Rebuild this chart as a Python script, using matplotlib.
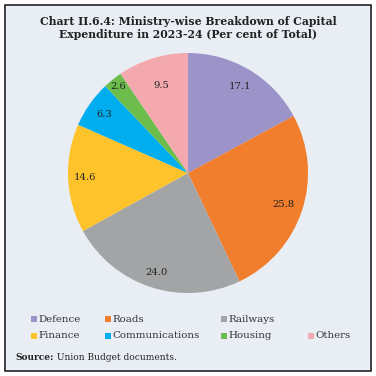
import matplotlib
matplotlib.use("Agg")
import matplotlib.pyplot as plt
from matplotlib.patches import Rectangle

categories = ["Defence", "Roads", "Railways", "Finance", "Communications", "Housing", "Others"]
values = [17.1, 25.8, 24.0, 14.6, 6.3, 2.6, 9.5]
colors = ["#9C94C9", "#F07E2C", "#A2A4A6", "#FEC32A", "#00AEEF", "#6CBD4B", "#F4A9AE"]
label_dist = [0.84, 0.84, 0.87, 0.86, 0.85, 0.93, 0.76]
title = "Chart II.6.4: Ministry-wise Breakdown of Capital\nExpenditure in 2023-24 (Per cent of Total)"
source_label = "Source:"
source_text = " Union Budget documents."

W = H = 376
fig = plt.figure(figsize=(3.76, 3.76), dpi=100)
fig.patch.set_facecolor("white")
bg = "#E9EEF5"
fig.patches.append(Rectangle((5 / W, 5 / H), 366 / W, 366 / H, transform=fig.transFigure,
                             facecolor=bg, edgecolor="#222222", linewidth=1.2, zorder=-5))

serif = ["DejaVu Serif"]
fig.text(188 / W, 1 - 28 / H, title, ha="center", va="center", fontsize=7.8,
         fontweight="bold", family=serif, linespacing=1.25, color="#222222")

# pie axes: center (188,173), radius ~120
r = 120
ax = fig.add_axes([(188 - r) / W, 1 - (173 + r) / H, 2 * r / W, 2 * r / H], zorder=2)
ax.set_facecolor("none")
wedges, texts = ax.pie(values, colors=colors, startangle=90, counterclock=False,
                       labels=[f"{v:.1f}" for v in values], labeldistance=1.0,
                       wedgeprops=dict(linewidth=0),
                       textprops=dict(fontsize=7.2, family=serif, color="#222222"))
for t, d in zip(texts, label_dist):
    x, y = t.get_position()
    t.set_position((x * d, y * d))
    t.set_ha("center")
    t.set_va("center")
ax.set_xlim(-1, 1)
ax.set_ylim(-1, 1)
ax.set_aspect("equal")
ax.axis("off")

# legend
pos = [(31, 319), (105, 319), (221, 319), (31, 336), (105, 336), (221, 336), (308, 336)]
for (x, y), c, name in zip(pos, colors, categories):
    fig.patches.append(Rectangle(((x) / W, 1 - (y + 3) / H), 6 / W, 6 / H,
                                 transform=fig.transFigure, facecolor=c, edgecolor="none",
                                 zorder=3))
    fig.text((x + 7) / W, 1 - y / H, name, ha="left", va="center", fontsize=7.4,
             family=serif, color="#333333")

t1 = fig.text(15 / W, 1 - 357 / H, source_label, ha="left", va="center", fontsize=6.5,
              fontweight="bold", family=serif, color="#222222")
fig.canvas.draw()
bb = t1.get_window_extent()
fig.text(bb.x1 / W, 1 - 357 / H, source_text, ha="left", va="center", fontsize=6.5,
         family=serif, color="#222222")

fig.savefig("out.png", dpi=100, facecolor="white")
